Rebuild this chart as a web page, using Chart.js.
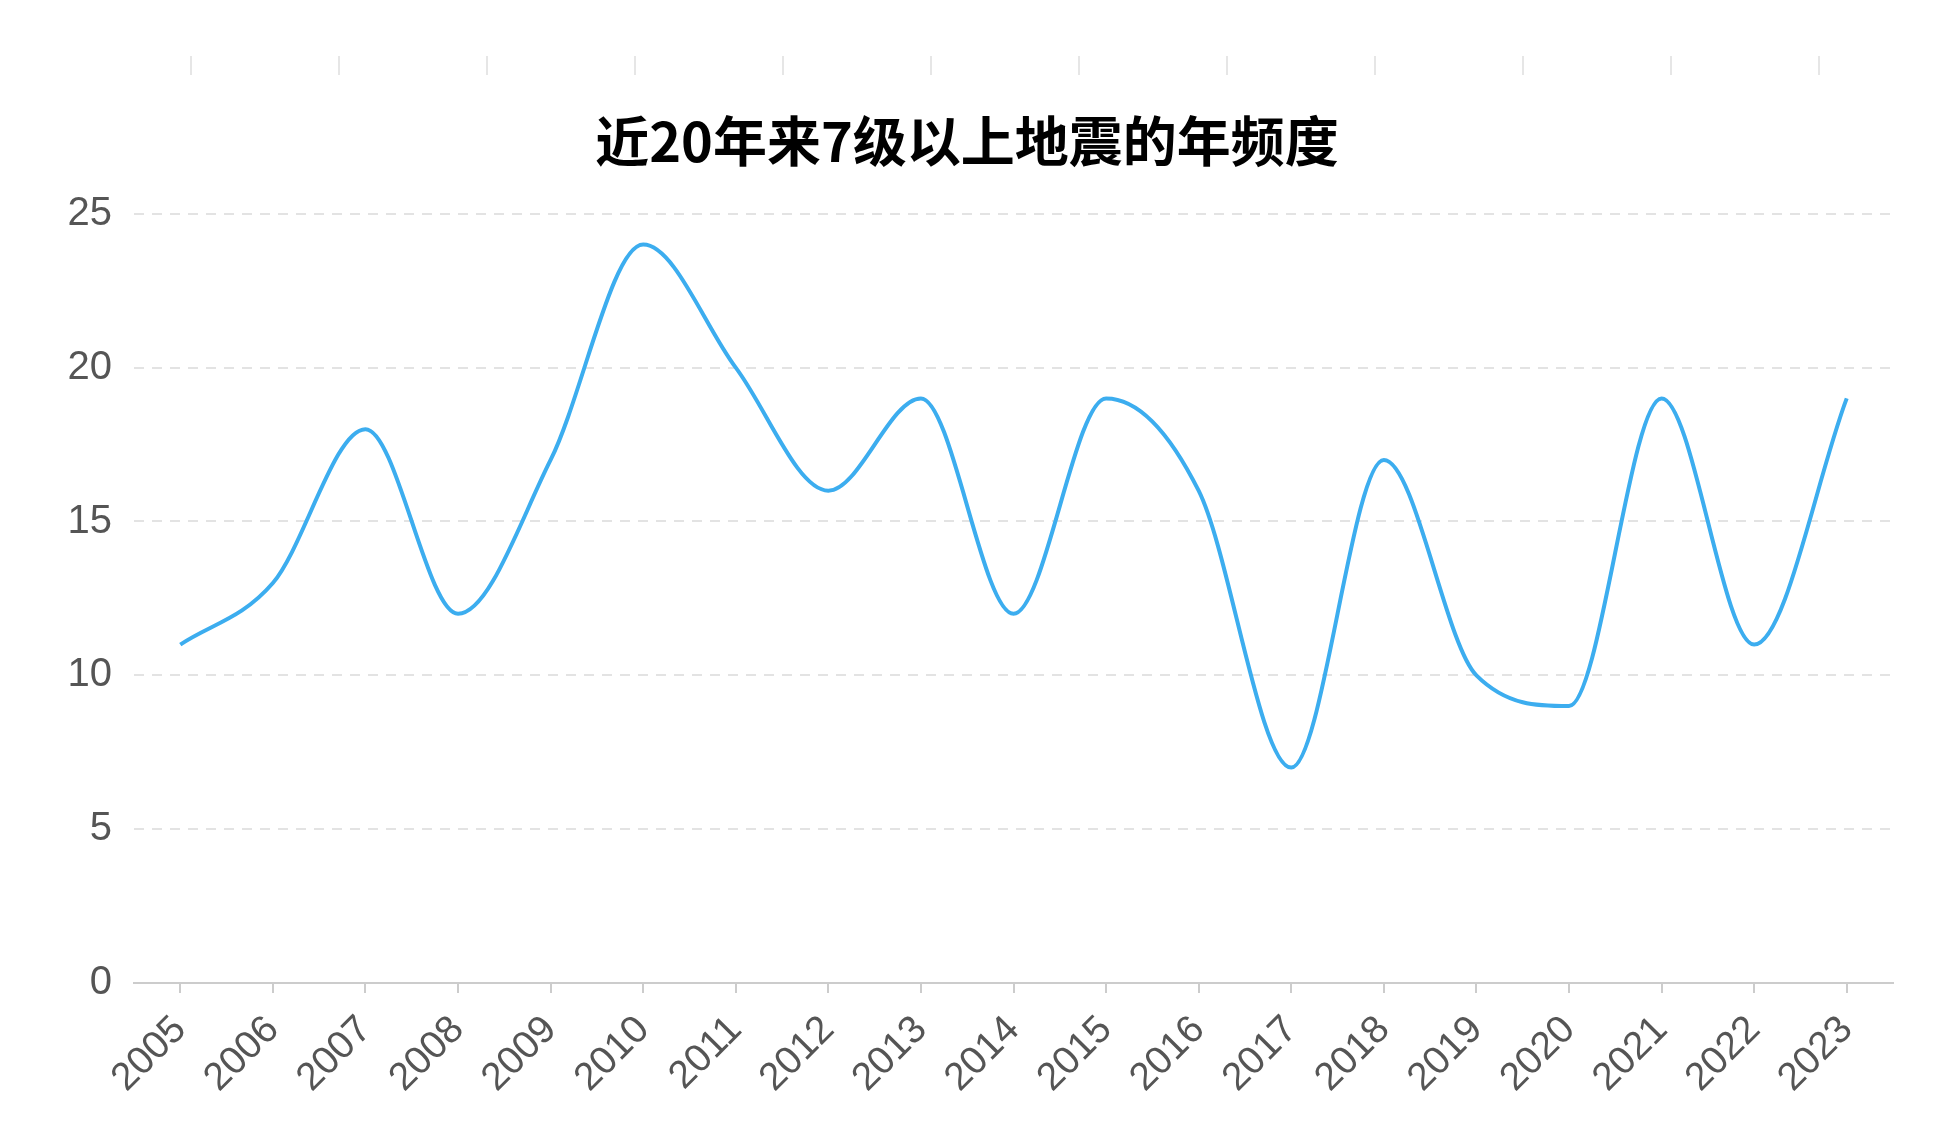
<!DOCTYPE html>
<html>
<head>
<meta charset="utf-8">
<title>近20年来7级以上地震的年频度</title>
<script src="https://cdn.jsdelivr.net/npm/chart.js@4.4.1/dist/chart.umd.min.js"></script>
<style>
  html, body { margin: 0; padding: 0; background: #fff; }
  #wrap { width: 1952px; height: 1146px; position: relative; }
</style>
</head>
<body>
<div id="wrap"><canvas id="quakeChart"></canvas></div>
<script>
// years and yearly counts of M7+ earthquakes
const years = ['2005', '2006', '2007', '2008', '2009', '2010', '2011', '2012', '2013', '2014',
               '2015', '2016', '2017', '2018', '2019', '2020', '2021', '2022', '2023'];
const counts = [11, 13, 18, 12, 17, 24, 20, 16, 19, 12, 19, 16, 7, 17, 10, 9, 19, 11, 19];
const yTicks = [0, 5, 10, 15, 20, 25];

const labelFont = "'Liberation Sans Narrow', 'Liberation Sans', Arial, sans-serif";

// faint leftover tick marks along the top edge of the screenshot
const topMarks = {
    id: 'topMarks',
    beforeDraw(chart) {
        const ctx = chart.ctx;
        ctx.save();
        ctx.strokeStyle = '#e6e6e6';
        ctx.lineWidth = 2;
        for (let i = 0; i < 12; i++) {
            const x = 191 + i * 148;
            ctx.beginPath();
            ctx.moveTo(x, 56);
            ctx.lineTo(x, 75);
            ctx.stroke();
        }
        ctx.restore();
    }
};

const ctx = document.getElementById('quakeChart').getContext('2d');
const myChart = new Chart(ctx, {
    type: 'line',
    data: {
        labels: years,
        datasets: [{
            label: '7级以上地震次数',
            data: counts,
            borderColor: '#3cadef',
            borderWidth: 4,
            cubicInterpolationMode: 'monotone',
            pointRadius: 0,
            fill: false
        }]
    },
    options: {
        responsive: true,
        maintainAspectRatio: false,
        animation: false,
        devicePixelRatio: 1,
        layout: { padding: { left: 41, right: 59, top: 0, bottom: 0 } },
        plugins: {
            legend: { display: false },
            tooltip: { enabled: false },
            title: {
                display: true,
                text: '近20年来7级以上地震的年频度',
                color: '#000',
                font: { family: "'Noto Sans CJK SC', sans-serif", size: 54, weight: 'bold', lineHeight: 1.2 },
                padding: { top: 109, bottom: 40 }
            }
        },
        scales: {
            x: {
                offset: true,
                grid: { display: true, drawOnChartArea: false, drawTicks: true, tickLength: 10, color: '#cccccc', lineWidth: 2 },
                border: { display: true, color: '#cccccc', width: 2 },
                ticks: {
                    color: '#555',
                    font: { family: labelFont, size: 39 },
                    minRotation: 45,
                    maxRotation: 45,
                    padding: 14,
                    autoSkip: false
                },
                afterFit(scale) { scale.height = 163; }
            },
            y: {
                min: 0,
                max: 25,
                afterBuildTicks(scale) { scale.ticks = yTicks.map(v => ({ value: v })); },
                grid: { color: '#e3e3e3', lineWidth: 2, drawTicks: false },
                border: { display: false, dash: [10, 8] },
                ticks: {
                    color: '#555',
                    font: { family: labelFont, size: 40 },
                    padding: 22
                },
                afterFit(scale) { scale.width = 93; }
            }
        }
    },
    plugins: [topMarks]
});
</script>
</body>
</html>
